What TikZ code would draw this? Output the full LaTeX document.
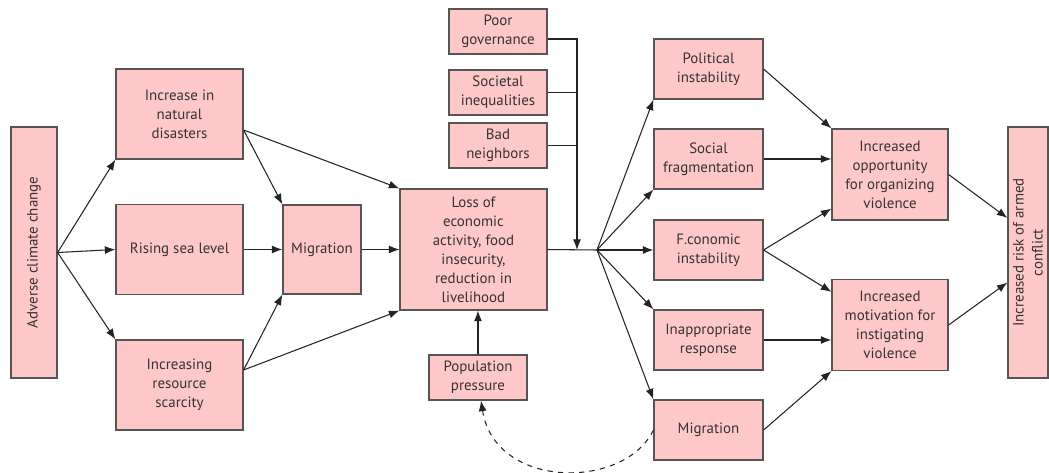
\documentclass[tikz,border=0pt]{standalone}
\usepackage{fontspec}
\setmainfont{PT Sans}
\usepackage{tikz}
\usetikzlibrary{arrows.meta,positioning}
\tikzset{>={Latex[length=6pt,width=4.5pt]}}
\definecolor{boxpink}{RGB}{255,200,200}
\definecolor{boxline}{RGB}{85,85,85}
\definecolor{arrline}{RGB}{35,35,35}
\tikzstyle{fact}=[rectangle,draw=boxline,fill=boxpink,line width=0.7pt,
  align=center,inner sep=1pt,text=black!80,font=\fontsize{8.5}{10.8}\selectfont]
\tikzstyle{tall}=[fact,rotate=90,minimum width=5.02cm]
\tikzstyle{lbox}=[fact,minimum width=2.54cm,minimum height=1.8cm]
\tikzstyle{sbox}=[fact,minimum width=1.96cm,minimum height=0.9cm]
\tikzstyle{rbox}=[fact,minimum width=2.18cm,minimum height=1.2cm]
\tikzstyle{vbox}=[fact,minimum width=2.32cm,minimum height=1.82cm]
\tikzstyle{link}=[arrline,line width=0.6pt]

\begin{document}
\begin{tikzpicture}[x=0.02cm,y=-0.02cm]
  \useasboundingbox (0,0) rectangle (1049,473);

  % left column
  \path (34,252.5) node (adv) [tall,minimum height=0.92cm] {Adverse climate change};
  \path (179.5,114) node (dis) [lbox] {Increase in\\natural\\disasters};
  \path (179.5,249.5) node (sea) [lbox] {Rising sea level};
  \path (179.5,385) node (scar) [lbox] {Increasing\\resource\\scarcity};
  \path (322,249.5) node (mig1) [fact,minimum width=1.56cm,minimum height=1.78cm] {Migration};

  % middle
  \path (473.5,249.5) node (loss) [fact,minimum width=2.94cm,minimum height=2.42cm]
    {Loss of\\economic\\activity, food\\insecurity,\\reduction in\\livelihood};
  \path (498,31.5) node (gov) [sbox] {Poor\\governance};
  \path (498,92.5) node (ineq) [sbox] {Societal\\inequalities};
  \path (498,145.5) node (nbr) [sbox] {Bad\\neighbors};
  \path (478,377.5) node (pop) [sbox] {Population\\pressure};
  \coordinate (jn) at (577,250);
  \coordinate (br) at (597,250);

  % right columns
  \path (708.5,69) node (pol) [rbox] {Political\\instability};
  \path (708.5,159) node (soc) [rbox] {Social\\fragmentation};
  \path (708.5,250) node (eco) [rbox] {F.conomic\\instability};
  \path (708.5,340) node (inap) [rbox] {Inappropriate\\response};
  \path (708.5,430) node (mig2) [rbox] {Migration};
  \path (890,174.5) node (opp) [vbox] {Increased\\opportunity\\for organizing\\violence};
  \path (890,325) node (mot) [vbox] {Increased\\motivation for\\instigating\\violence};
  \path (1028,252.5) node (risk) [tall,minimum height=0.8cm] {Increased risk of armed\\conflict};

  % climate side
  \draw[link,->] (adv.south) -- (dis.south west);
  \draw[link,->] (adv.south) -- (sea.west);
  \draw[link,->] (adv.south) -- (scar.north west);
  \draw[link,->] ([yshift=-0.32cm]dis.east) -- (mig1.north west);
  \draw[link,->] ([yshift=-0.32cm]dis.east) -- (loss.north west);
  \draw[link,->] (sea.east) -- (mig1.west);
  \draw[link,->] ([yshift=0.3cm]scar.east) -- (mig1.south west);
  \draw[link,->] ([yshift=0.3cm]scar.east) -- (loss.south west);
  \draw[link,->] (mig1.east) -- (loss.west);
  \draw[link,->] (pop.north) -- (pop.north |- loss.south);

  % context factors
  \draw[link,->] ([yshift=-0.15cm]gov.east) -| (jn);
  \draw[link] (ineq.east) -- (ineq.east -| jn);
  \draw[link] (nbr.east) -- (nbr.east -| jn);
  \draw[link] (loss.east) -- (br);

  % fan out
  \draw[link,->] (br) -- (pol.south west);
  \draw[link,->] (br) -- (soc.south west);
  \draw[link,->] (br) -- (eco.west);
  \draw[link,->] (br) -- (inap.north west);
  \draw[link,->] (br) -- (mig2.north west);

  \draw[link,->] (pol.east) -- (opp.north west);
  \draw[link,->] (soc.east) -- (soc.east -| opp.west);
  \draw[link,->] (eco.east) -- ([yshift=0.24cm]opp.south west);
  \draw[link,->] (eco.east) -- ([yshift=-0.26cm]mot.north west);
  \draw[link,->] (inap.east) -- (inap.east -| mot.west);
  \draw[link,->] (mig2.east) -- (mot.south west);
  \draw[link,->] (opp.east) -- ([yshift=0.69cm]risk.north);
  \draw[link,->] (mot.east) -- ([yshift=-0.6cm]risk.north);

  % feedback
  \draw[link,->,dashed] (mig2.west) .. controls (625,490) and (495,490) .. ([xshift=0.06cm]pop.south);
\end{tikzpicture}
\end{document}
